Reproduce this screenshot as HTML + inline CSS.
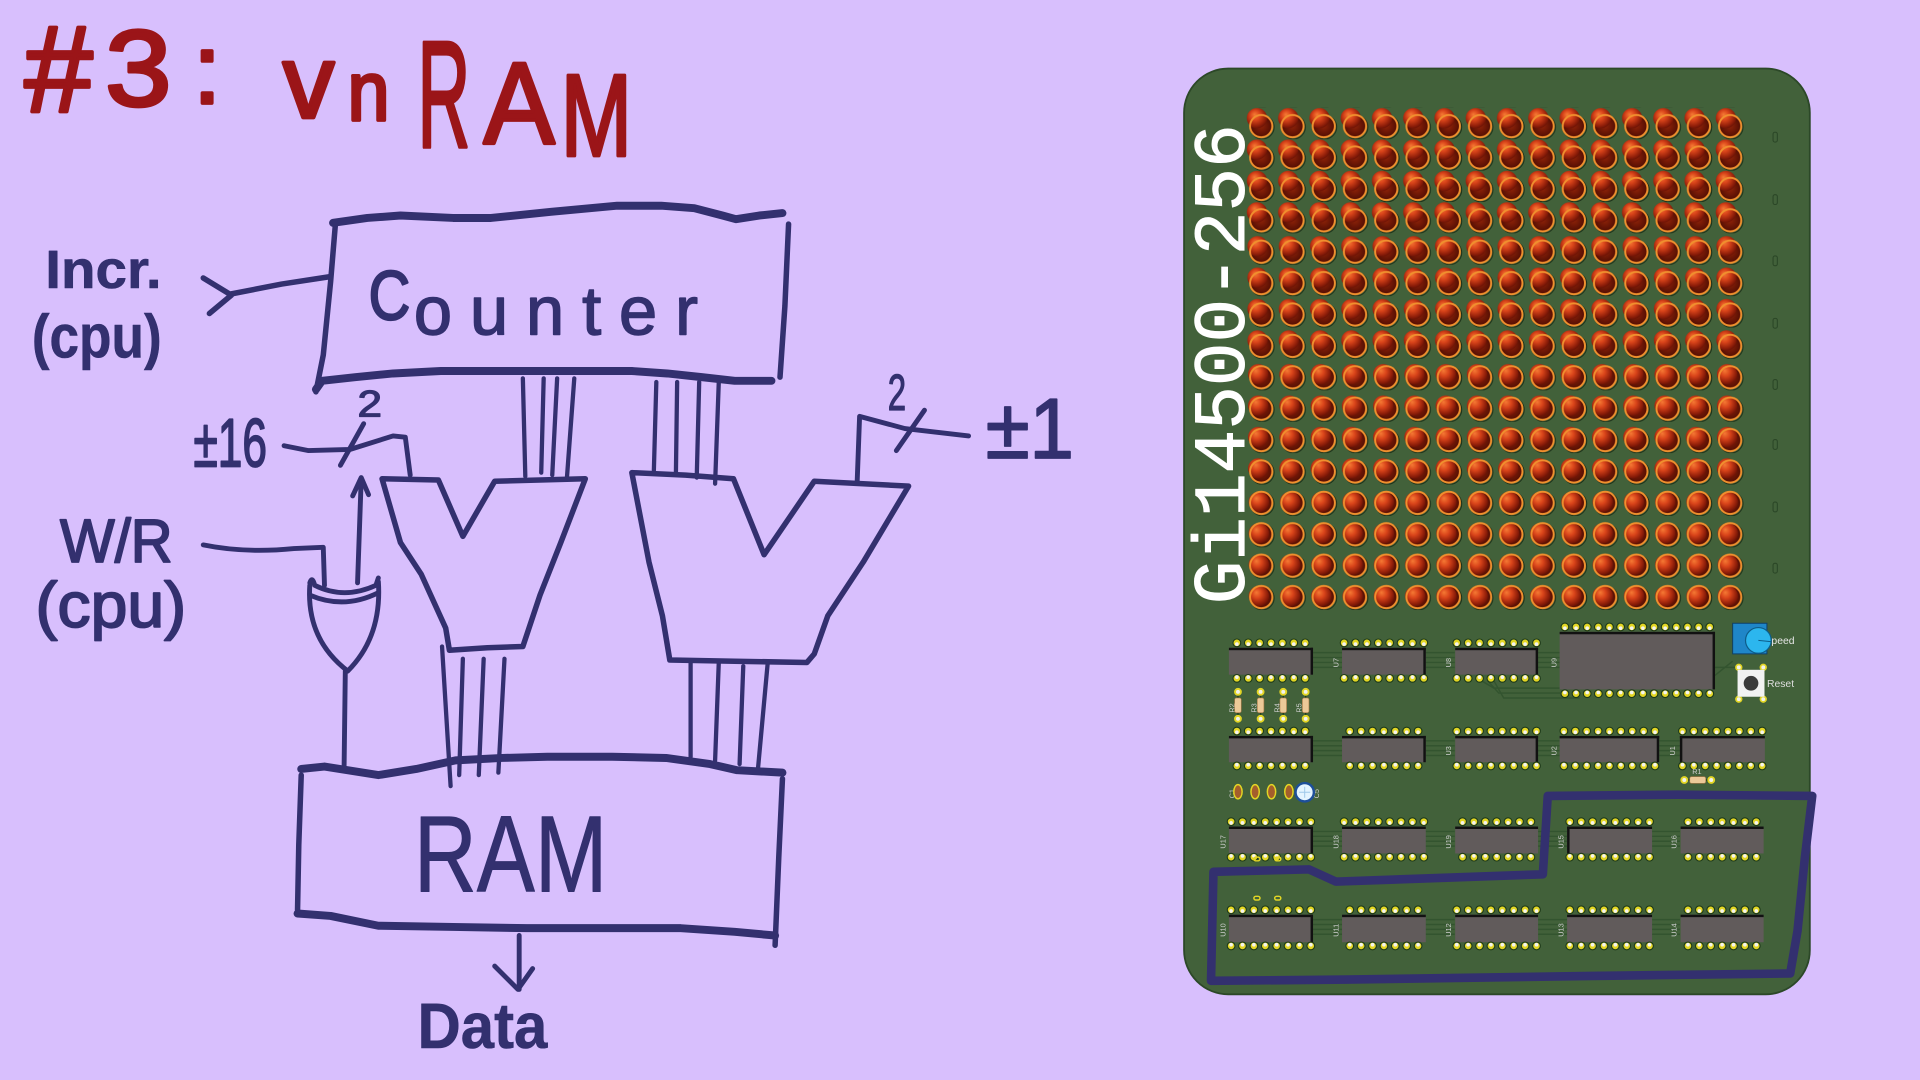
<!DOCTYPE html>
<html><head><meta charset="utf-8"><style>
html,body{margin:0;padding:0;background:#d8bffd;width:1920px;height:1080px;overflow:hidden}
svg{display:block}
.h{font-family:"Liberation Sans",sans-serif;fill:#33306f;stroke:#33306f;stroke-linejoin:round}
.t{font-family:"Liberation Sans",sans-serif;fill:#9b1518;stroke:#9b1518;stroke-width:3;stroke-linejoin:round}
.ln{fill:none;stroke:#33306f;stroke-linecap:round;stroke-linejoin:round}
.pk{font-family:"Liberation Sans",sans-serif;fill:#cfcfcf;font-size:6px}
</style></head><body>
<svg width="1920" height="1080" viewBox="0 0 1568 882" xmlns="http://www.w3.org/2000/svg">
<defs>
<radialGradient id="dome" cx="0.45" cy="0.42" r="0.6" fx="0.38" fy="0.32">
<stop offset="0" stop-color="#f57a34"/><stop offset="0.4" stop-color="#d9441a"/><stop offset="0.8" stop-color="#93200a"/><stop offset="1" stop-color="#6a1205"/></radialGradient>
<radialGradient id="body" cx="0.5" cy="0.5" r="0.55">
<stop offset="0" stop-color="#8e2208"/><stop offset="1" stop-color="#4a0b03"/></radialGradient>
<pattern id="ledA" x="1017.23" y="88" width="25.53" height="25.64" patternUnits="userSpaceOnUse">
<circle cx="13.6" cy="15.8" r="9.7" fill="none" stroke="#1b2e17" stroke-width="0.8"/>
<circle cx="12.77" cy="15" r="9.2" fill="url(#body)"/>
<circle cx="9.3" cy="8.5" r="8.3" fill="url(#dome)"/>
<circle cx="12.77" cy="15" r="9.1" fill="none" stroke="#f0902e" stroke-width="1.6"/>
</pattern>
<pattern id="ledB" x="1017.23" y="88" width="25.53" height="25.64" patternUnits="userSpaceOnUse">
<circle cx="13.6" cy="15.8" r="9.7" fill="none" stroke="#1b2e17" stroke-width="0.8"/>
<circle cx="12.77" cy="15" r="9.2" fill="url(#body)"/>
<circle cx="9.8" cy="10.5" r="8.3" fill="url(#dome)"/>
<circle cx="12.77" cy="15" r="9.1" fill="none" stroke="#f0902e" stroke-width="1.6"/>
</pattern>
<pattern id="ledC" x="1017.23" y="88" width="25.53" height="25.64" patternUnits="userSpaceOnUse">
<circle cx="13.6" cy="15.8" r="9.7" fill="none" stroke="#1b2e17" stroke-width="0.8"/>
<circle cx="12.77" cy="15" r="9.2" fill="url(#body)"/>
<circle cx="10.3" cy="12.5" r="8.3" fill="url(#dome)"/>
<circle cx="12.77" cy="15" r="9.1" fill="none" stroke="#f0902e" stroke-width="1.6"/>
</pattern>
<pattern id="ledD" x="1017.23" y="88" width="25.53" height="25.64" patternUnits="userSpaceOnUse">
<circle cx="13.6" cy="15.8" r="9.7" fill="none" stroke="#1b2e17" stroke-width="0.8"/>
<circle cx="12.77" cy="15" r="9.2" fill="url(#body)"/>
<circle cx="10.8" cy="14.2" r="8.3" fill="url(#dome)"/>
<circle cx="12.77" cy="15" r="9.1" fill="none" stroke="#f0902e" stroke-width="1.6"/>
</pattern>
</defs>

<rect width="1568" height="882" fill="#d8bffd"/>

<!-- ===== Title ===== -->
<text class="t" x="20" y="91" font-size="100">#</text>
<text class="t" x="86" y="86" font-size="88" textLength="54" lengthAdjust="spacingAndGlyphs">3</text>
<text class="t" x="158" y="84" font-size="80">:</text>
<text class="t" x="231" y="96" font-size="85" textLength="42" lengthAdjust="spacingAndGlyphs">v</text>
<text class="t" x="284" y="98" font-size="68" textLength="34" lengthAdjust="spacingAndGlyphs">n</text>
<text class="t" x="341" y="120" font-size="124" textLength="43" lengthAdjust="spacingAndGlyphs">R</text>
<text class="t" x="395" y="117" font-size="95" textLength="58" lengthAdjust="spacingAndGlyphs">A</text>
<text class="t" x="458" y="127" font-size="95" textLength="58" lengthAdjust="spacingAndGlyphs">M</text>

<!-- ===== Counter box ===== -->
<path class="ln" stroke-width="6.5" d="M272,182 L300,178 L327,176 L370,178 L401,178 L450,173 L504,168 L540,168 L567,170 L590,176 L601,179 L620,176 L639,174"/>
<path class="ln" stroke-width="4.5" d="M644,183 L641,250 L637,308"/>
<path class="ln" stroke-width="4.5" d="M274,182 L270,230 L264,290 L258,320"/>
<path class="ln" stroke-width="6.5" d="M258,318 L263,311 L290,308 L321,305 L360,303 L401,303 L450,303 L516,303 L545,305 L573,308 L600,311 L630,311"/>
<text class="h" x="301" y="261" font-size="57" stroke-width="1.8" textLength="34" lengthAdjust="spacingAndGlyphs">C</text>
<text class="h" x="338" y="273" font-size="56" stroke-width="1.2" textLength="232" lengthAdjust="spacing">ounter</text>

<!-- Incr input -->
<text class="h" x="37" y="235" font-size="44" font-weight="bold" stroke-width="0.5" textLength="95" lengthAdjust="spacingAndGlyphs">Incr.</text>
<text class="h" x="26" y="292" font-size="50" font-weight="bold" stroke-width="0.5" textLength="106" lengthAdjust="spacingAndGlyphs">(cpu)</text>
<path class="ln" stroke-width="4.5" d="M269,226 L230,232 L189,240"/>
<path class="ln" stroke-width="4.5" d="M166,227 L189,241 L171,256"/>

<!-- buses counter -> muxes -->
<g class="ln" stroke-width="3.5">
<path d="M427,309 L429,389"/><path d="M444,309 L442,386"/><path d="M455,309 L451,388"/><path d="M469,309 L463,390"/>
<path d="M536,312 L534,384"/><path d="M553,312 L552,386"/><path d="M571,312 L569,390"/><path d="M587,312 L584,395"/>
</g>

<!-- ±16 -->
<text class="h" x="158" y="381" font-size="56" stroke-width="1.5" textLength="60" lengthAdjust="spacingAndGlyphs">±16</text>
<text class="h" x="292" y="340" font-size="30" stroke-width="1" textLength="20" lengthAdjust="spacingAndGlyphs">2</text>
<path class="ln" stroke-width="4" d="M232,364 L252,368 L286,367 L321,356 L331,357 L335,388"/>
<path class="ln" stroke-width="4" d="M297,346 L278,380"/>

<!-- ±1 -->
<text class="h" x="805" y="374" font-size="70" stroke-width="1.5" textLength="72" lengthAdjust="spacingAndGlyphs">±1</text>
<text class="h" x="725" y="335" font-size="42" stroke-width="1" textLength="15" lengthAdjust="spacingAndGlyphs">2</text>
<path class="ln" stroke-width="4" d="M791,356 L739,350 L702,340 L700,394"/>
<path class="ln" stroke-width="4" d="M755,335 L732,368"/>

<!-- muxes -->
<path class="ln" stroke-width="4.5" d="M312,391 L358,392 L378,438 L404,393 L478,391 L458,443 L441,486 L427,528 L398,529 L367,531 L364,513 L344,469 L327,443 Z"/>
<path class="ln" stroke-width="4.5" d="M516,386 L560,388 L599,391 L624,453 L665,393 L742,397 L705,459 L676,503 L665,534 L659,541 L600,540 L547,539 L541,503 L530,459 Z"/>

<!-- W/R -->
<text class="h" x="49" y="459" font-size="50" stroke-width="1.5" textLength="92" lengthAdjust="spacingAndGlyphs">W/R</text>
<text class="h" x="29" y="512" font-size="52" stroke-width="1.5" textLength="123" lengthAdjust="spacingAndGlyphs">(cpu)</text>
<path class="ln" stroke-width="4" d="M166,445 Q200,452 240,448 L264,447 L265,478"/>
<!-- XOR gate -->
<path class="ln" stroke-width="4" d="M253,478 Q250,522 284,548 Q312,520 309,475"/>
<path class="ln" stroke-width="4" d="M253,486 Q281,498 309,484"/>
<path class="ln" stroke-width="4" d="M253,476 Q255,470 257,478 Q281,490 307,478 L309,472"/>
<!-- arrow up -->
<path class="ln" stroke-width="4" d="M292,476 L295,391"/>
<path class="ln" stroke-width="4" d="M288,405 L295,390 L301,404"/>
<path class="ln" stroke-width="4" d="M282,548 L281,627"/>

<!-- buses muxes -> RAM -->
<g class="ln" stroke-width="3.5">
<path d="M361,528 L368,642"/><path d="M378,538 L375,633"/><path d="M395,538 L391,633"/><path d="M412,538 L407,631"/>
<path d="M564,541 L564,618"/><path d="M587,541 L584,621"/><path d="M607,544 L604,624"/><path d="M627,541 L619,628"/>
</g>

<!-- RAM box -->
<path class="ln" stroke-width="6.5" d="M246,628 L265,626 L309,633 L340,628 L372,621 L410,619 L447,618 L500,618 L544,619 L580,624 L602,629 L639,631"/>
<path class="ln" stroke-width="4.5" d="M246,633 L244,690 L243,743"/>
<path class="ln" stroke-width="4.5" d="M639,636 L636,700 L633,772"/>
<path class="ln" stroke-width="6.5" d="M243,746 L270,748 L309,756 L370,757 L430,758 L500,758 L556,758 L600,761 L633,764"/>
<text class="h" x="338" y="728" font-size="89" stroke-width="0.8" textLength="158" lengthAdjust="spacingAndGlyphs">RAM</text>

<!-- Data -->
<path class="ln" stroke-width="4" d="M424,764 L424,808"/>
<path class="ln" stroke-width="4" d="M404,789 L423,808 L435,791"/>
<text class="h" x="341" y="856" font-size="52" font-weight="bold" stroke-width="0.5" textLength="106" lengthAdjust="spacingAndGlyphs">Data</text>

<!-- ===== PCB ===== -->
<rect x="967" y="56" width="511" height="756" rx="36" ry="36" fill="#42613a" stroke="#2c4828" stroke-width="1.5"/>

<!-- traces -->
<g stroke="#33542f" stroke-width="1.2">
<path d="M1072,533H1096M1072,537H1096M1072,541H1096M1072,545H1096"/>
<path d="M1164,533H1188M1164,537H1188M1164,541H1188M1164,545H1188"/>
<path d="M1256,533H1274M1256,537H1274M1256,541H1274M1256,545H1274"/>
<path d="M1210,556L1220,562H1274M1215,556L1224,566H1274M1220,556L1228,570H1290" fill="none"/>
<path d="M1072,605H1096M1072,609H1096M1072,613H1096M1072,617H1096"/>
<path d="M1164,605H1188M1164,609H1188M1164,613H1188M1164,617H1188"/>
<path d="M1256,605H1274M1256,609H1274M1256,613H1274M1256,617H1274"/>
<path d="M1355,605H1372M1355,609H1372M1355,613H1372M1355,617H1372"/>
<path d="M1072,679H1096M1072,683H1096M1072,687H1096M1072,691H1096"/>
<path d="M1164,679H1188M1164,683H1188M1164,687H1188M1164,691H1188"/>
<path d="M1256,679H1280M1256,683H1280M1256,687H1280M1256,691H1280"/>
<path d="M1349,679H1372M1349,683H1372M1349,687H1372M1349,691H1372"/>
<path d="M1072,751H1096M1072,755H1096M1072,759H1096M1072,763H1096"/>
<path d="M1164,751H1188M1164,755H1188M1164,759H1188M1164,763H1188"/>
<path d="M1256,751H1280M1256,755H1280M1256,759H1280M1256,763H1280"/>
<path d="M1349,751H1372M1349,755H1372M1349,759H1372M1349,763H1372"/>
<path d="M1400,545H1420M1400,552L1415,540" fill="none"/>
</g>

<!-- ICs -->
<g>
<rect x="1003.6" y="529" width="68.7" height="22" fill="#615b5b"/><rect x="1003.6" y="529" width="68.7" height="2" fill="#111"/><rect x="1070.3" y="529" width="2" height="22" fill="#111"/>
<rect x="1096" y="529" width="68.4" height="22" fill="#615b5b"/><rect x="1096" y="529" width="68.4" height="2" fill="#111"/><rect x="1162.4" y="529" width="2" height="22" fill="#111"/>
<rect x="1188.4" y="529" width="67.7" height="22" fill="#615b5b"/><rect x="1188.4" y="529" width="67.7" height="2" fill="#111"/><rect x="1254.1" y="529" width="2" height="22" fill="#111"/>
<rect x="1273.7" y="516" width="126.9" height="47" fill="#615b5b"/><rect x="1273.7" y="516" width="126.9" height="2" fill="#111"/><rect x="1398.6" y="516" width="2" height="47" fill="#111"/>
<rect x="1003.6" y="601" width="68.7" height="21.5" fill="#615b5b"/><rect x="1003.6" y="601" width="68.7" height="2" fill="#111"/><rect x="1070.3" y="601" width="2" height="21.5" fill="#111"/>
<rect x="1096" y="601" width="68.4" height="21.5" fill="#615b5b"/><rect x="1096" y="601" width="68.4" height="2" fill="#111"/><rect x="1162.4" y="601" width="2" height="21.5" fill="#111"/>
<rect x="1188.4" y="601" width="67.7" height="21.5" fill="#615b5b"/><rect x="1188.4" y="601" width="67.7" height="2" fill="#111"/><rect x="1254.1" y="601" width="2" height="21.5" fill="#111"/>
<rect x="1273.7" y="601" width="81.3" height="21.5" fill="#615b5b"/><rect x="1273.7" y="601" width="81.3" height="2" fill="#111"/><rect x="1353" y="601" width="2" height="21.5" fill="#111"/>
<rect x="1371.9" y="601" width="69.4" height="21.5" fill="#615b5b"/><rect x="1371.9" y="601" width="69.4" height="2" fill="#111"/><rect x="1371.9" y="601" width="2" height="21.5" fill="#111"/>
<rect x="1003.6" y="675" width="68.7" height="22" fill="#615b5b"/><rect x="1003.6" y="675" width="68.7" height="2" fill="#111"/><rect x="1070.3" y="675" width="2" height="22" fill="#111"/>
<rect x="1096" y="675" width="68.4" height="22" fill="#615b5b"/><rect x="1096" y="675" width="68.4" height="2" fill="#111"/>
<rect x="1188.4" y="675" width="67.7" height="22" fill="#615b5b"/><rect x="1188.4" y="675" width="67.7" height="2" fill="#111"/>
<rect x="1279.8" y="675" width="69.4" height="22" fill="#615b5b"/><rect x="1279.8" y="675" width="69.4" height="2" fill="#111"/><rect x="1279.8" y="675" width="2" height="22" fill="#111"/>
<rect x="1372.5" y="675" width="67.8" height="22" fill="#615b5b"/><rect x="1372.5" y="675" width="67.8" height="2" fill="#111"/>
<rect x="1003.6" y="747" width="68.7" height="22.5" fill="#615b5b"/><rect x="1003.6" y="747" width="68.7" height="2" fill="#111"/><rect x="1070.3" y="747" width="2" height="22.5" fill="#111"/>
<rect x="1096" y="747" width="68.4" height="22.5" fill="#615b5b"/><rect x="1096" y="747" width="68.4" height="2" fill="#111"/>
<rect x="1188.4" y="747" width="67.7" height="22.5" fill="#615b5b"/><rect x="1188.4" y="747" width="67.7" height="2" fill="#111"/>
<rect x="1279.8" y="747" width="69.4" height="22.5" fill="#615b5b"/><rect x="1279.8" y="747" width="69.4" height="2" fill="#111"/>
<rect x="1372.5" y="747" width="67.8" height="22.5" fill="#615b5b"/><rect x="1372.5" y="747" width="67.8" height="2" fill="#111"/>
</g>

<!-- pins -->
<g fill="none" stroke-linecap="round">
<g stroke="#1d3a19" stroke-width="7.2">
<path stroke-dasharray="0 9.3" d="M1010.1,525H1066M1010.1,554H1066M1097.7,525H1163M1097.7,554H1163M1189.7,525H1255M1189.7,554H1255"/>
<path stroke-dasharray="0 9.1" d="M1278,512H1396.4M1278,566.5H1396.4"/>
<path stroke-dasharray="0 9.3" d="M1010.1,597H1066M1010.1,625.5H1066M1102.3,597H1158.2M1102.3,625.5H1158.2M1189.7,597H1255M1189.7,625.5H1255M1277.2,597H1351.7M1277.2,625.5H1351.7M1374,597H1439.2M1374,625.5H1439.2"/>
<path stroke-dasharray="0 9.3" d="M1005.4,671H1070.6M1005.4,700H1070.6M1097.7,671H1163M1097.7,700H1163M1194.4,671H1250.3M1194.4,700H1250.3M1282,671H1347.2M1282,700H1347.2M1378.5,671H1434.4M1378.5,700H1434.4"/>
<path stroke-dasharray="0 9.3" d="M1005.4,743H1070.6M1005.4,772.5H1070.6M1102.3,743H1158.2M1102.3,772.5H1158.2M1189.7,743H1255M1189.7,772.5H1255M1282,743H1347.2M1282,772.5H1347.2M1378.5,743H1434.4M1378.5,772.5H1434.4"/>
</g>
<g stroke="#e3d624" stroke-width="5.4">
<path stroke-dasharray="0 9.3" d="M1010.1,525H1066M1010.1,554H1066M1097.7,525H1163M1097.7,554H1163M1189.7,525H1255M1189.7,554H1255"/>
<path stroke-dasharray="0 9.1" d="M1278,512H1396.4M1278,566.5H1396.4"/>
<path stroke-dasharray="0 9.3" d="M1010.1,597H1066M1010.1,625.5H1066M1102.3,597H1158.2M1102.3,625.5H1158.2M1189.7,597H1255M1189.7,625.5H1255M1277.2,597H1351.7M1277.2,625.5H1351.7M1374,597H1439.2M1374,625.5H1439.2"/>
<path stroke-dasharray="0 9.3" d="M1005.4,671H1070.6M1005.4,700H1070.6M1097.7,671H1163M1097.7,700H1163M1194.4,671H1250.3M1194.4,700H1250.3M1282,671H1347.2M1282,700H1347.2M1378.5,671H1434.4M1378.5,700H1434.4"/>
<path stroke-dasharray="0 9.3" d="M1005.4,743H1070.6M1005.4,772.5H1070.6M1102.3,743H1158.2M1102.3,772.5H1158.2M1189.7,743H1255M1189.7,772.5H1255M1282,743H1347.2M1282,772.5H1347.2M1378.5,743H1434.4M1378.5,772.5H1434.4"/>
</g>
<g stroke="#f4f4f0" stroke-width="3">
<path stroke-dasharray="0 9.3" d="M1010.1,526H1066M1010.1,553H1066M1097.7,526H1163M1097.7,553H1163M1189.7,526H1255M1189.7,553H1255"/>
<path stroke-dasharray="0 9.1" d="M1278,513H1396.4M1278,565.5H1396.4"/>
<path stroke-dasharray="0 9.3" d="M1010.1,598H1066M1010.1,624.5H1066M1102.3,598H1158.2M1102.3,624.5H1158.2M1189.7,598H1255M1189.7,624.5H1255M1277.2,598H1351.7M1277.2,624.5H1351.7M1374,598H1439.2M1374,624.5H1439.2"/>
<path stroke-dasharray="0 9.3" d="M1005.4,672H1070.6M1005.4,699H1070.6M1097.7,672H1163M1097.7,699H1163M1194.4,672H1250.3M1194.4,699H1250.3M1282,672H1347.2M1282,699H1347.2M1378.5,672H1434.4M1378.5,699H1434.4"/>
<path stroke-dasharray="0 9.3" d="M1005.4,744H1070.6M1005.4,771.5H1070.6M1102.3,744H1158.2M1102.3,771.5H1158.2M1189.7,744H1255M1189.7,771.5H1255M1282,744H1347.2M1282,771.5H1347.2M1378.5,744H1434.4M1378.5,771.5H1434.4"/>
</g>
</g>

<!-- labels -->
<g class="pk">
<text transform="translate(1093,545) rotate(-90)">U7</text>
<text transform="translate(1185,545) rotate(-90)">U8</text>
<text transform="translate(1271,545) rotate(-90)">U9</text>
<text transform="translate(1185,617) rotate(-90)">U3</text>
<text transform="translate(1271,617) rotate(-90)">U2</text>
<text transform="translate(1368,617) rotate(-90)">U1</text>
<text transform="translate(1001,693) rotate(-90)">U17</text>
<text transform="translate(1093,693) rotate(-90)">U18</text>
<text transform="translate(1185,693) rotate(-90)">U19</text>
<text transform="translate(1277,693) rotate(-90)">U15</text>
<text transform="translate(1369,693) rotate(-90)">U16</text>
<text transform="translate(1001,765) rotate(-90)">U10</text>
<text transform="translate(1093,765) rotate(-90)">U11</text>
<text transform="translate(1185,765) rotate(-90)">U12</text>
<text transform="translate(1277,765) rotate(-90)">U13</text>
<text transform="translate(1369,765) rotate(-90)">U14</text>
<text transform="translate(1008,582) rotate(-90)">R2</text>
<text transform="translate(1026,582) rotate(-90)">R3</text>
<text transform="translate(1045,582) rotate(-90)">R4</text>
<text transform="translate(1063,582) rotate(-90)">R5</text>
<text x="1382" y="632">R1</text>
<text transform="translate(1008,652) rotate(-90)">C1</text>
<text transform="translate(1077,652) rotate(-90)">C5</text>
</g>

<!-- resistors -->
<g>
<g stroke="#1d3a19" stroke-width="1"><path d="M1011,565V587M1029.5,565V587M1048,565V587M1066.3,565V587M1375.5,637H1397.5"/></g>
<g fill="#f2f2ee" stroke="#e3d624" stroke-width="1.6">
<circle cx="1011" cy="565" r="2.4"/><circle cx="1011" cy="587" r="2.4"/>
<circle cx="1029.5" cy="565" r="2.4"/><circle cx="1029.5" cy="587" r="2.4"/>
<circle cx="1048" cy="565" r="2.4"/><circle cx="1048" cy="587" r="2.4"/>
<circle cx="1066.3" cy="565" r="2.4"/><circle cx="1066.3" cy="587" r="2.4"/>
<circle cx="1375.5" cy="637" r="2.4"/><circle cx="1397.5" cy="637" r="2.4"/>
</g>
<g fill="#ecc998" stroke="#a87a48" stroke-width="0.5">
<rect x="1008.3" y="570" width="5.4" height="12" rx="1.5"/>
<rect x="1026.8" y="570" width="5.4" height="12" rx="1.5"/>
<rect x="1045.3" y="570" width="5.4" height="12" rx="1.5"/>
<rect x="1063.6" y="570" width="5.4" height="12" rx="1.5"/>
<rect x="1380" y="634.3" width="13" height="5.4" rx="1.5"/>
</g>
</g>

<!-- capacitors -->
<g stroke="#e3d624" stroke-width="1.2">
<ellipse cx="1011" cy="646.6" rx="3.4" ry="5.8" fill="#a45e2c"/>
<ellipse cx="1025" cy="646.6" rx="3.4" ry="5.8" fill="#a45e2c"/>
<ellipse cx="1038.4" cy="646.6" rx="3.4" ry="5.8" fill="#a45e2c"/>
<ellipse cx="1052.6" cy="646.6" rx="3.4" ry="5.8" fill="#a45e2c"/>
</g>
<circle cx="1065.5" cy="647" r="7.5" fill="#e4f4ff" stroke="#1d4f9a" stroke-width="2"/>
<path d="M1061,647H1070M1065.5,642.5V651.5" stroke="#9ec8ea" stroke-width="0.8"/>
<g fill="none" stroke="#e3d624" stroke-width="1.2">
<rect x="1024" y="700" width="5" height="3" rx="1.5"/><rect x="1041" y="700" width="5" height="3" rx="1.5"/>
<rect x="1024" y="732" width="5" height="3" rx="1.5"/><rect x="1041" y="732" width="5" height="3" rx="1.5"/>
</g>

<!-- speed pot -->
<text x="1441" y="526" font-family="Liberation Sans, sans-serif" font-size="8.5" fill="#e6e6e6">Speed</text>
<rect x="1415" y="509" width="28" height="25" fill="#1f86c8" stroke="#0e3f66" stroke-width="0.8"/>
<circle cx="1436" cy="523" r="10.5" fill="#2cb6ee" stroke="#0d5d8a" stroke-width="1"/>
<path d="M1436,523L1446,524" stroke="#0d5d8a" stroke-width="0.8"/>
<!-- reset -->
<g fill="#f2f2ee" stroke="#e3d624" stroke-width="1.4">
<circle cx="1420" cy="545" r="2.3"/><circle cx="1440" cy="545" r="2.3"/><circle cx="1420" cy="571" r="2.3"/><circle cx="1440" cy="571" r="2.3"/>
</g>
<rect x="1419" y="547" width="22" height="22" fill="#f2f2f2"/>
<circle cx="1430" cy="558" r="6" fill="#3b3b3b"/>
<text x="1443" y="561" font-family="Liberation Sans, sans-serif" font-size="8.5" fill="#dedede">Reset</text>

<!-- right edge marks -->
<g fill="none" stroke="#2b4727" stroke-width="0.9">
<rect x="1448" y="108" width="3.5" height="8" rx="1.5"/><rect x="1448" y="159" width="3.5" height="8" rx="1.5"/>
<rect x="1448" y="209" width="3.5" height="8" rx="1.5"/><rect x="1448" y="260" width="3.5" height="8" rx="1.5"/>
<rect x="1448" y="310" width="3.5" height="8" rx="1.5"/><rect x="1448" y="359" width="3.5" height="8" rx="1.5"/>
<rect x="1448" y="410" width="3.5" height="8" rx="1.5"/><rect x="1448" y="460" width="3.5" height="8" rx="1.5"/>
</g>

<!-- LED matrix -->
<rect x="1017.23" y="88" width="408.48" height="102.56" fill="url(#ledA)"/>
<rect x="1017.23" y="190.56" width="408.48" height="102.56" fill="url(#ledB)"/>
<rect x="1017.23" y="293.12" width="408.48" height="102.56" fill="url(#ledC)"/>
<rect x="1017.23" y="395.68" width="408.48" height="102.56" fill="url(#ledD)"/>

<!-- board name -->
<text transform="translate(1016,493.5) rotate(-90)" font-family="Liberation Mono, monospace" font-size="60" fill="#ffffff" stroke="#ffffff" stroke-width="0.8" textLength="392" lengthAdjust="spacingAndGlyphs">Gi14500-256</text>

<!-- blue hand-drawn outline -->
<path d="M991,712 L1069,710 L1091,720 L1260,714 L1264,650 L1370,649 L1480,650 L1474,700 L1468,760 L1462,795 L1300,797 L1100,800 L989,801 Z" fill="none" stroke="#33306f" stroke-width="7" stroke-linejoin="round"/>
</svg>
</body></html>
